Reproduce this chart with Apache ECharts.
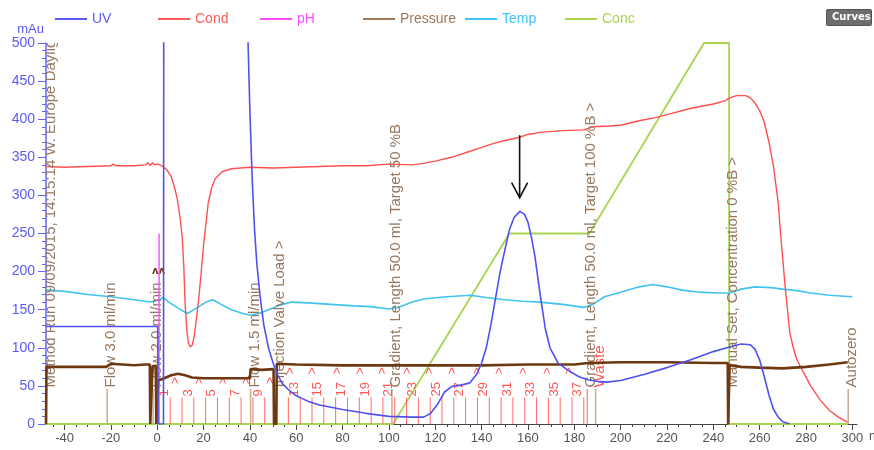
<!DOCTYPE html>
<html>
<head>
<meta charset="utf-8">
<script src="https://cdn.jsdelivr.net/npm/echarts@6/dist/echarts.min.js"></script>
<style>
  html, body { margin: 0; padding: 0; background: #fff; }
  #chart { width: 874px; height: 450px; }
</style>
</head>
<body>
<div id="chart"></div>
<script>
// ---- curve data (x in ml, y in mAu scale) ----
const xTickLabels = [-40, -20, 0, 20, 40, 60, 80, 100, 120, 140, 160, 180, 200, 220, 240, 260, 280, 300];

const uvData = [
  [-48, 128], [0.2, 128], [0.4, 0], [2.7, 0], [3.0, 1500], [3.1, null],
  [38.5, 1500], [39.2, 500], [40, 410], [41, 320], [42, 255], [43, 210], [44.5, 165], [46, 130],
  [48, 100], [50, 80], [52, 64], [54, 53], [57, 44], [60, 37], [65, 30], [70, 25], [80, 19],
  [90, 14], [100, 10], [110, 9], [115, 9], [118, 14], [121, 26], [124, 42], [127, 49], [131, 51],
  [135, 54], [138, 66], [140, 80], [142, 100], [144, 130], [146, 165], [148, 200], [150, 228],
  [152, 255], [154, 271], [156.5, 279], [158.5, 275], [160, 265], [161.5, 245], [163, 220],
  [165.5, 165], [167.5, 125], [169.5, 100], [173, 80], [177, 71], [182, 62], [186, 58], [190, 56],
  [194, 55], [200, 57], [210, 65], [220, 74], [230, 84], [240, 95], [247, 101], [252, 105],
  [256, 104], [258, 98], [260, 84], [262, 62], [264, 38], [266, 19], [268, 9], [270, 3], [273, 0]
];

const condData = [
  [-48, 338], [-40, 337], [-30, 338], [-20, 339], [-19, 341], [-18, 339], [-10, 339], [-5, 340],
  [-4, 343], [-3, 339], [-2, 343], [-1, 340], [0, 341], [2, 339], [4, 334], [6, 325], [7.5, 310],
  [8.6, 296], [9.8, 272], [10.8, 245], [11.5, 205], [12, 160], [12.8, 122], [13.5, 106],
  [14.3, 101], [15.2, 104], [16, 116], [17, 140], [18, 167], [19, 200], [20, 235], [21, 262],
  [22, 290], [23.5, 310], [25, 322], [28, 331], [32, 335], [40, 337], [50, 336], [60, 337],
  [70, 338], [80, 339], [90, 339],
  [100, 341], [110, 340], [115, 342], [120, 345], [127, 350], [134, 357], [140, 363], [145, 368],
  [150, 372], [156, 376], [160, 380], [166, 383], [175, 385], [184, 386], [188, 390], [195, 391],
  [200, 392], [208, 398], [215, 402], [220, 406], [230, 414], [240, 420], [245, 424], [247, 428],
  [250, 431], [254, 431], [256, 428], [258, 421], [260, 411], [262, 396], [264, 370], [266, 337],
  [268, 290], [269, 250], [270, 215], [271, 180], [272, 150], [273, 120], [274.5, 100], [276, 85],
  [279, 67], [282, 50], [286, 32], [290, 18], [294, 9], [298, 2]
];

const phData = [[0.8, 0], [0.8, 250]];

const pressureData = [
  [-48, 0], [-47.8, 75], [-40, 75], [-30, 75], [-22, 75], [-21, 77], [-20, 79], [-15, 78],
  [-10, 77], [-5, 78], [-3.2, 78], [-3, 0], [-2.2, 0], [-2, 76], [-0.6, 76], [-0.4, 0], [0.2, 0],
  [0.4, 57], [3, 60], [6, 64], [9, 66], [12, 64], [15, 61], [20, 60], [30, 60], [40, 60],
  [40.3, 72], [45, 71], [50.2, 72], [50.4, 0], [51.4, 0], [51.6, 79], [60, 78], [80, 77],
  [100, 77], [120, 77], [140, 77], [160, 78], [180, 78], [186, 80], [200, 81], [220, 81],
  [240, 80], [246.2, 80], [246.4, 0], [246.8, 0], [247, 77], [252, 75], [260, 74], [270, 73],
  [280, 75], [290, 78], [298, 81]
];

const tempData = [
  [-48, 176], [-40, 174], [-30, 170], [-20, 167], [-10, 163], [-3, 160], [0, 162], [2.6, 166],
  [5, 160], [9, 152], [13, 145], [17, 152], [21, 160], [24, 163], [27, 158], [32, 150], [37, 145],
  [40, 143], [44, 145], [48, 150], [53, 156], [58, 160], [65, 159], [75, 157], [85, 155], [92, 154],
  [100, 151], [104, 153], [110, 160], [115, 164], [125, 167], [135, 169], [142, 166], [150, 163],
  [158, 161], [165, 160], [175, 157], [184, 153], [188, 157], [193, 167], [200, 173], [208, 180],
  [214, 183], [220, 180], [226, 176], [234, 173], [242, 172], [247, 172], [252, 177], [258, 180],
  [265, 179], [270, 177], [276, 175], [282, 172], [290, 169], [300, 167]
];

const concData = [[-48, 0], [101.8, 0], [152, 250], [186.5, 250], [236, 500], [246.8, 500], [246.8, 0], [298, 0]];

// ---- run log events ----
const eventX = [-47.8, -21.6, -1.8, 40.3, 51.3, 101.3, 185.6, 189.2, 246.6, 298.2];
const eventText = [
  'Method Run 09/09/2015, 14:15:14 W. Europe Daylight Time',
  'Flow 3.0 ml/min',
  'Flow 2.0 ml/min',
  'Flow 1.5 ml/min',
  'Injection Valve Load >',
  'Gradient, Length 50.0 ml, Target 50 %B',
  'Gradient, Length 50.0 ml, Target 100 %B >',
  'Waste',
  'Manual Set, Concentration 0 %B >',
  'Autozero'
];
const eventTextColor = ['#957860', '#957860', '#957860', '#957860', '#957860', '#957860', '#957860', '#ff5555', '#957860', '#957860'];
const flowMarkX = [0.6];
const flowMarkY = [200];

// ---- fractions ----
const fracLineX = [5.6, 10.7, 15.8, 20.9, 26.0, 31.1, 36.2, 41.3, 46.4, 51.5, 56.6, 61.7, 66.8, 71.9,
  77.0, 82.1, 87.2, 92.3, 97.4, 102.5, 107.6, 112.7, 117.8, 122.9, 128.0, 133.1, 138.2, 143.3,
  148.4, 153.5, 158.6, 163.7, 168.8, 173.9, 179.0, 184.1];
const fracNumX = [3.05, 13.25, 23.45, 33.65, 43.85, 59.15, 69.35, 79.55, 89.75, 99.95, 110.15,
  120.35, 130.55, 140.75, 150.95, 161.15, 171.35, 181.55];
const fracNumText = ['1', '3', '5', '7', '9', '13', '15', '17', '19', '21', '23', '25', '27', '29', '31', '33', '35', '37'];
const fracMarkX = [8.15, 18.35, 28.55, 38.75, 48.95, 57.4, 67.3, 77.7, 87.6, 97.5, 107.9, 117.8,
  127.7, 138.1, 148, 158, 168.3, 178.2];
const fracMarkY = [57, 57, 57, 57, 57, 70, 70, 70, 70, 70, 70, 70, 70, 70, 70, 70, 70, 70];

// peak pointer: x, top, tip
const peakArrow = [[156.4, 379, 297]];

const names = ['UV', 'Cond', 'pH', 'Pressure', 'Temp', 'Conc'];
const legendColors = ['#5a5af5', '#ff5a5a', '#ff4cff', '#a07a58', '#40c4ee', '#a8d450'];
const legendLeft = [50, 153, 255, 358, 460, 560];

const FONT = '"Liberation Sans", Arial, sans-serif';
const EVENT_LINE_TOP = 46;
const EVENT_TEXT_START = 48;
const FRAC_LINE_TOP = 35;

const minorTicks = [];
for (let v = -45; v <= 300; v += 5) if (v % 20 !== 0) minorTicks.push(v);

function renderEvents(params, api) {
  const i = params.dataIndex;
  const p0 = api.coord([eventX[i], 0]);
  const p1 = api.coord([eventX[i], EVENT_LINE_TOP]);
  const pt = api.coord([eventX[i], EVENT_TEXT_START]);
  return {
    type: 'group',
    children: [
      { type: 'line', shape: { x1: p0[0], y1: p0[1], x2: p1[0], y2: p1[1] },
        style: { stroke: '#c9ab8e', lineWidth: 1.5 } },
      { type: 'text', x: pt[0] + 4, y: pt[1], rotation: Math.PI / 2,
        style: { text: eventText[i], fill: eventTextColor[i], font: '15px ' + FONT,
                 align: 'left', verticalAlign: 'middle' } }
    ]
  };
}

function renderFractions(params, api) {
  const children = [];
  fracLineX.forEach(x => {
    const a = api.coord([x, 0]);
    const b = api.coord([x, FRAC_LINE_TOP]);
    children.push({ type: 'line', shape: { x1: a[0], y1: a[1], x2: b[0], y2: b[1] },
      style: { stroke: '#ff6a6a', lineWidth: 1 } });
  });
  fracNumX.forEach((x, i) => {
    const p = api.coord([x, FRAC_LINE_TOP + 1]);
    children.push({ type: 'text', x: p[0], y: p[1], rotation: Math.PI / 2,
      style: { text: fracNumText[i], fill: '#ff5555', font: '13px ' + FONT,
               align: 'left', verticalAlign: 'middle' } });
  });
  fracMarkX.forEach((x, i) => {
    const p = api.coord([x, fracMarkY[i]]);
    children.push({ type: 'text', x: p[0], y: p[1], rotation: Math.PI / 2,
      style: { text: '>', fill: '#ff5555', font: '12px ' + FONT,
               align: 'center', verticalAlign: 'middle' } });
  });
  flowMarkX.forEach((x, i) => {
    const p = api.coord([x, flowMarkY[i]]);
    children.push({ type: 'text', x: p[0], y: p[1],
      style: { text: '\u028C\u028C', fill: '#6b3a12', font: 'bold 10px "DejaVu Sans", sans-serif',
               align: 'center', verticalAlign: 'middle' } });
  });
  return { type: 'group', children };
}

function renderArrow(params, api) {
  const top = api.coord([api.value(0), api.value(1)]);
  const tip = api.coord([api.value(0), api.value(2)]);
  return {
    type: 'group',
    children: [
      { type: 'line', shape: { x1: top[0], y1: top[1], x2: tip[0], y2: tip[1] },
        style: { stroke: '#111', lineWidth: 1.6 } },
      { type: 'polyline', shape: { points: [[tip[0] - 8, tip[1] - 15], [tip[0], tip[1]], [tip[0] + 8, tip[1] - 15]] },
        style: { stroke: '#111', lineWidth: 1.6, fill: null } }
    ]
  };
}

function lineSeries(name, data, color, width, z) {
  return {
    name, type: 'line', data, symbol: 'none', showSymbol: false, connectNulls: false,
    itemStyle: { color }, lineStyle: { color, width }, z, silent: true, animation: false
  };
}

const chart = echarts.init(document.getElementById('chart'), null, { renderer: 'canvas' });

const concSeries = lineSeries('Conc', concData, '#a8d450', 1.8, 2);
concSeries.clip = false;
const pressureSeries = lineSeries('Pressure', pressureData, '#6e3810', 2.6, 6);
pressureSeries.itemStyle = { color: '#a07a58' };

chart.setOption({
  animation: false,
  backgroundColor: '#ffffff',
  textStyle: { fontFamily: FONT },
  grid: { left: 46, right: 17, top: 43, bottom: 26, containLabel: false, outerBoundsMode: 'none' },
  legend: names.map((n, i) => ({
    data: [{ name: n, itemStyle: { color: legendColors[i] }, textStyle: { color: legendColors[i] } }],
    left: legendLeft[i], top: 7, icon: 'rect', itemWidth: 32, itemHeight: 2, itemGap: 6,
    textStyle: { fontSize: 14, fontFamily: FONT }, selectedMode: false
  })),
  graphic: [
    { type: 'rect', left: 826, top: 9, shape: { width: 45, height: 16, r: 1 },
      style: { fill: '#6d6d6d', stroke: '#555', lineWidth: 1 } },
    { type: 'text', left: 832, top: 12,
      style: { text: 'Curves', fill: '#fff', font: 'bold 10px "DejaVu Sans", sans-serif' } }
  ],
  xAxis: [
    {
      type: 'value', min: -48, max: 302, name: 'ml', nameLocation: 'end', nameGap: 9,
      nameTextStyle: { color: '#555', fontSize: 13, verticalAlign: 'top', padding: [6, 0, 0, 0] },
      axisLine: { show: true, onZero: false, lineStyle: { color: '#444', width: 1 } },
      axisTick: { show: true, length: 6, customValues: xTickLabels, lineStyle: { color: '#444' } },
      axisLabel: { customValues: xTickLabels, color: '#555', fontSize: 13, margin: 8, fontFamily: FONT },
      splitLine: { show: false }
    },
    {
      type: 'value', min: -48, max: 302, position: 'bottom',
      axisLine: { show: false, onZero: false },
      axisTick: { show: true, length: 3, customValues: minorTicks, lineStyle: { color: '#444' } },
      axisLabel: { show: false },
      splitLine: { show: false }
    }
  ],
  yAxis: {
    type: 'value', min: 0, max: 500, interval: 50, name: 'mAu', nameLocation: 'end', nameGap: 5,
    nameTextStyle: { color: '#5a5af5', fontSize: 13, align: 'right', padding: [0, 2, 0, 0] },
    axisLine: { show: true, onZero: false, lineStyle: { color: '#6464f5', width: 1.5 } },
    axisTick: { show: true, length: 8, lineStyle: { color: '#6464f5' } },
    minorTick: { show: true, splitNumber: 5, length: 4, lineStyle: { color: '#6464f5' } },
    axisLabel: { color: '#5a5af5', fontSize: 14, margin: 11, fontFamily: FONT },
    splitLine: { show: false }
  },
  series: [
    concSeries,
    lineSeries('Temp', tempData, '#40c4ee', 1.6, 3),
    lineSeries('Cond', condData, '#ff5050', 1.4, 4),
    lineSeries('pH', phData, '#ff4cff', 1.4, 5),
    {
      type: 'custom', renderItem: renderEvents, clip: true, silent: true, z: 5,
      data: eventX.map(x => [x, 0]), encode: { x: 0, y: 1 }
    },
    {
      type: 'custom', renderItem: renderFractions, clip: true, silent: true, z: 5,
      data: [[0, 0]], encode: { x: 0, y: 1 }
    },
    pressureSeries,
    lineSeries('UV', uvData, '#5050f0', 1.6, 7),
    {
      type: 'custom', renderItem: renderArrow, clip: false, silent: true, z: 8,
      data: peakArrow, encode: { x: 0, y: [1, 2] }
    }
  ]
});
</script>
</body>
</html>
